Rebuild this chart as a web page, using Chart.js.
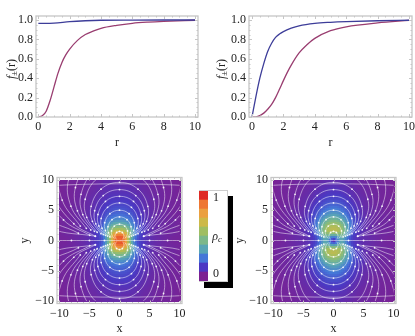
<!DOCTYPE html>
<html>
<head>
<meta charset="utf-8">
<script src="https://cdn.jsdelivr.net/npm/chart.js@4"></script>
<style>
html, body { margin: 0; padding: 0; background: #fff; }
#page { position: relative; width: 415px; height: 336px; overflow: hidden; font-family: "Liberation Serif", serif; color: #222; }
canvas { position: absolute; }
.lbl { position: absolute; white-space: nowrap; }
#barBox { position: absolute; left: 199px; top: 190px; width: 27px; height: 90px; background: #fff; border: 1px solid #ccc; box-shadow: 5px 6px 0 0 #000; }
sub { font-size: 8.5px; vertical-align: -2px; line-height: 0; }
</style>
</head>
<body>
<div id="page"><div id="barBox"></div></div>
<script>
// line plots, values
const rLeftBlue = [0, 1, 2, 3, 4, 6, 8, 10];
const fLeftBlue = [0.965, 0.968, 0.983, 0.992, 0.997, 0.999, 1, 1];
const rLeftRed = [0, 0.25, 0.5, 0.75, 1, 1.25, 1.5, 1.75, 2, 2.5, 3, 3.5, 4, 5, 6, 7, 8, 10];
const fLeftRed = [0, 0.012, 0.06, 0.17, 0.31, 0.45, 0.56, 0.64, 0.7, 0.79, 0.85, 0.885, 0.914, 0.945, 0.966, 0.978, 0.986, 0.997];
const rRightBlue = [0, 0.25, 0.5, 0.75, 1, 1.25, 1.5, 1.75, 2, 2.5, 3, 4, 5, 6, 8, 10];
const fRightBlue = [0, 0.21, 0.4, 0.55, 0.675, 0.76, 0.82, 0.855, 0.88, 0.915, 0.94, 0.965, 0.976, 0.983, 0.992, 0.997];
const rRightRed = [0, 0.25, 0.5, 0.75, 1, 1.25, 1.5, 1.75, 2, 2.25, 2.5, 3, 3.5, 4, 5, 6, 8, 10];
const fRightRed = [0, 0.002, 0.015, 0.04, 0.08, 0.13, 0.2, 0.285, 0.375, 0.46, 0.535, 0.66, 0.745, 0.81, 0.89, 0.93, 0.97, 0.995];
const curveXTicks = [0, 2, 4, 6, 8, 10];
const curveYTicks = [0, 0.2, 0.4, 0.6, 0.8, 1];
const heatTicks = [-10, -5, 0, 5, 10];

// density in percent, quadrant x>=0 y>=0, rows follow gridCoords in y
const gridCoords = [0, 0.5, 1, 1.5, 2, 2.5, 3, 3.5, 4, 5, 6, 7, 8, 9, 10];
const densityLeft = [
  [88, 92, 80, 54, 36, 22, 15, 12, 10, 7, 5, 4, 3, 2, 2],
  [94, 94, 82, 58, 38, 24, 16, 12, 10, 7, 5, 4, 3, 2, 2],
  [86, 84, 76, 58, 40, 26, 18, 13, 10, 7, 5, 4, 3, 3, 2],
  [68, 68, 62, 52, 38, 26, 18, 14, 11, 7, 5, 4, 3, 3, 2],
  [54, 53, 50, 43, 34, 25, 18, 14, 11, 7, 5, 4, 3, 3, 2],
  [42, 42, 40, 35, 29, 22, 17, 13, 11, 7, 5, 4, 3, 3, 2],
  [33, 33, 32, 28, 25, 20, 15, 12, 10, 7, 5, 4, 3, 3, 2],
  [27, 27, 26, 23, 21, 17, 14, 11, 9, 7, 5, 4, 3, 3, 2],
  [22, 22, 21, 20, 18, 15, 12, 10, 9, 6, 5, 4, 3, 2, 2],
  [17, 17, 16, 15, 14, 12, 10, 9, 8, 6, 4, 4, 3, 2, 2],
  [13, 13, 13, 12, 11, 10, 9, 8, 7, 5, 4, 3, 3, 2, 2],
  [10, 10, 10, 10, 9, 8, 8, 7, 6, 5, 4, 3, 2, 2, 2],
  [8, 8, 8, 8, 7, 7, 6, 6, 5, 4, 3, 3, 2, 2, 1],
  [7, 6, 6, 6, 6, 6, 5, 5, 4, 4, 3, 2, 2, 2, 1],
  [5, 5, 5, 5, 5, 5, 4, 4, 4, 3, 3, 2, 2, 1, 1]
];
const densityRight = [
  [4, 18, 32, 34, 26, 18, 13, 10, 8, 6, 5, 4, 3, 2, 2],
  [20, 24, 34, 36, 28, 19, 13, 10, 8, 6, 5, 4, 3, 2, 2],
  [42, 44, 46, 44, 34, 24, 16, 12, 9, 6, 5, 4, 3, 3, 2],
  [60, 60, 58, 50, 40, 28, 19, 13, 10, 7, 5, 4, 3, 3, 2],
  [63, 62, 58, 50, 40, 30, 21, 15, 11, 7, 5, 4, 3, 3, 2],
  [58, 57, 53, 46, 37, 29, 21, 15, 12, 7, 5, 4, 3, 3, 2],
  [50, 49, 46, 40, 33, 26, 20, 15, 12, 8, 5, 4, 3, 3, 2],
  [42, 41, 38, 34, 29, 23, 18, 14, 11, 8, 5, 4, 3, 3, 2],
  [35, 34, 32, 29, 25, 20, 16, 13, 10, 7, 5, 4, 3, 3, 2],
  [25, 25, 23, 21, 19, 16, 13, 11, 9, 6, 5, 4, 3, 2, 2],
  [18, 18, 17, 16, 14, 12, 11, 9, 8, 5, 4, 3, 3, 2, 2],
  [13, 13, 13, 12, 11, 10, 8, 7, 6, 5, 4, 3, 2, 2, 2],
  [10, 10, 10, 9, 8, 7, 7, 6, 5, 4, 3, 3, 2, 2, 1],
  [8, 8, 7, 7, 7, 6, 5, 5, 4, 4, 3, 2, 2, 2, 1],
  [6, 6, 6, 6, 5, 5, 5, 4, 4, 3, 3, 2, 2, 1, 1]
];

// stream lines, one quarter each, apex down towards the origin: x0, y0, x1, y1 ...
const streamArcs = [
  [0, 1.5, 0.48, 1.32, 0.74, 0.88, 0.7, 0.49, 0.48, 0.18],
  [0, 2.7, 0.87, 2.38, 1.33, 1.58, 1.27, 0.89, 0.87, 0.32],
  [0, 3.9, 1.25, 3.44, 1.92, 2.29, 1.83, 1.28, 1.25, 0.46],
  [0, 5, 1.6, 4.42, 2.46, 2.94, 2.35, 1.65, 1.6, 0.59],
  [0, 6.2, 1.99, 5.47, 3.05, 3.64, 2.91, 2.04, 1.99, 0.73],
  [0, 7.3, 2.34, 6.45, 3.59, 4.29, 3.43, 2.4, 2.34, 0.85],
  [0, 8.4, 2.7, 7.42, 4.13, 4.93, 3.95, 2.76, 2.7, 0.98],
  [0, 9.6, 3.08, 8.48, 4.72, 5.64, 4.51, 3.16, 3.08, 1.12],
  [0, 11.6, 3.72, 10.24, 5.71, 6.81, 5.45, 3.82, 3.72, 1.36],
  [0, 13, 4.17, 11.48, 6.4, 7.63, 6.11, 4.28, 4.17, 1.52],
  [0, 14.9, 4.78, 13.16, 7.33, 8.75, 7, 4.9, 4.78, 1.74],
  [0, 17.2, 5.52, 15.19, 8.46, 10.1, 8.08, 5.66, 5.52, 2.01],
  [6.52, 17.9, 9.99, 11.9, 9.54, 6.68, 6.52, 2.38],
  [11.66, 13.9, 11.14, 7.8, 7.61, 2.77, 4.05, 0.71],
  [14.27, 17, 13.63, 9.54, 9.31, 3.39, 4.96, 0.87],
  [19.7, 23.5, 12.84, 4.68, 6.84, 1.2],
  [21.8, 7.96, 11.6, 2.04, 4, 0.7]
];
// the straight line along the x axis
const axisStreamX = [-11, -8, -5, -2.5, 0, 2.5, 5, 8, 11];
const axisStreamY = [0, 0, 0, 0, 0, 0, 0, 0, 0];

const colorbarBands = ['#7c2192', '#4b38c3', '#4577d8', '#59a5b5', '#7cb88a', '#a0be62', '#cdb948', '#eba040', '#ee7733', '#df2b25'];
const colorbarSteps = [0.1, 0.1, 0.1, 0.1, 0.1, 0.1, 0.1, 0.1, 0.1, 0.1];

const blue = '#3d3d99';
const red = '#993d70';
const tickFont = { family: 'Liberation Serif', size: 12 };
const titleFont = { family: 'Liberation Serif', size: 12 };
const page = document.getElementById('page');

function addCanvas(left, top, w, h) {
  const c = document.createElement('canvas');
  c.width = w;
  c.height = h;
  c.style.left = left + 'px';
  c.style.top = top + 'px';
  c.style.width = w + 'px';
  c.style.height = h + 'px';
  page.appendChild(c);
  return c;
}

function addLabel(html, cx, cy, size, rotate) {
  const d = document.createElement('div');
  d.className = 'lbl';
  d.innerHTML = html;
  d.style.left = cx + 'px';
  d.style.top = cy + 'px';
  d.style.fontSize = size + 'px';
  d.style.transform = 'translate(-50%,-50%)' + (rotate ? ' rotate(-90deg)' : '');
  page.appendChild(d);
}

function range(from, to, step) {
  const out = [];
  for (let i = 0; from + i * step <= to + 1e-9; i++) out.push(from + i * step);
  return out;
}

function niceMinus(v) {
  return v < 0 ? '\u2212' + (-v) : String(v);
}

// gray Mathematica style frame with inside ticks
const framePlugin = {
  id: 'frame',
  afterDatasetsDraw(chart, args, opts) {
    const { ctx, chartArea: a, scales } = chart;
    ctx.save();
    ctx.strokeStyle = '#c6c6c6';
    ctx.lineWidth = 1;
    const mark = (vals, len) => {
      vals.forEach(v => {
        const px = Math.round(scales.x.getPixelForValue(v)) + 0.5;
        ctx.beginPath();
        ctx.moveTo(px, a.bottom); ctx.lineTo(px, a.bottom - len);
        ctx.moveTo(px, a.top); ctx.lineTo(px, a.top + len);
        ctx.stroke();
      });
    };
    const markY = (vals, len) => {
      vals.forEach(v => {
        const py = Math.round(scales.y.getPixelForValue(v)) + 0.5;
        ctx.beginPath();
        ctx.moveTo(a.left, py); ctx.lineTo(a.left + len, py);
        ctx.moveTo(a.right, py); ctx.lineTo(a.right - len, py);
        ctx.stroke();
      });
    };
    mark(opts.xMinor, 1.5);
    mark(opts.xMajor, 3);
    markY(opts.yMinor, 1.5);
    markY(opts.yMajor, 3);
    ctx.lineWidth = 1.3;
    ctx.strokeRect(a.left, a.top, a.right - a.left, a.bottom - a.top);
    ctx.restore();
  }
};

function levelColor(v) {
  const rgb = colorbarBands.map(h => [1, 3, 5].map(i => parseInt(h.substr(i, 2), 16)));
  const t = Math.max(0, Math.min(rgb.length - 1.001, v * (rgb.length - 1)));
  const i = Math.floor(t);
  const f = t - i;
  const c = rgb[i].map((p, k) => Math.round(p + (rgb[i + 1][k] - p) * f));
  return 'rgb(' + c.join(',') + ')';
}

// shade the density table between its nodes, 2 px squares placed with the chart scales
function sampleGrid(grid, ax, ay) {
  const n = gridCoords.length;
  let i = 0, j = 0;
  while (i < n - 2 && gridCoords[i + 1] < ax) i++;
  while (j < n - 2 && gridCoords[j + 1] < ay) j++;
  const fx = (ax - gridCoords[i]) / (gridCoords[i + 1] - gridCoords[i]);
  const fy = (ay - gridCoords[j]) / (gridCoords[j + 1] - gridCoords[j]);
  const low = grid[j][i] + (grid[j][i + 1] - grid[j][i]) * fx;
  const high = grid[j + 1][i] + (grid[j + 1][i + 1] - grid[j + 1][i]) * fx;
  return (low + (high - low) * fy) / 100;
}

const heatPlugin = {
  id: 'heat',
  beforeDatasetsDraw(chart, args, opts) {
    const { ctx, scales } = chart;
    const left = Math.round(scales.x.getPixelForValue(-10));
    const right = Math.round(scales.x.getPixelForValue(10));
    const top = Math.round(scales.y.getPixelForValue(10));
    const bottom = Math.round(scales.y.getPixelForValue(-10));
    ctx.save();
    for (let py = top; py < bottom; py += 2) {
      for (let px = left; px < right; px += 2) {
        const ax = Math.min(10, Math.abs(scales.x.getValueForPixel(px + 1)));
        const ay = Math.min(10, Math.abs(scales.y.getValueForPixel(py + 1)));
        ctx.fillStyle = levelColor(sampleGrid(opts.grid, ax, ay));
        ctx.fillRect(px, py, 2, 2);
      }
    }
    ctx.restore();
  }
};

function axis(min, max, ticks, size, extra) {
  const horizontal = extra.horizontal;
  return {
    type: 'linear',
    min: min,
    max: max,
    grid: { display: false, drawTicks: false, tickLength: 0 },
    border: { display: false },
    title: extra.title,
    afterBuildTicks: s => { s.ticks = ticks.map(v => ({ value: v })); },
    afterFit: s => {
      if (horizontal) s.height = size; else s.width = size;
      s.paddingLeft = s.paddingRight = s.paddingTop = s.paddingBottom = 0;
    },
    ticks: {
      autoSkip: false,
      maxRotation: 0,
      padding: extra.pad,
      color: '#222',
      font: tickFont,
      callback: extra.format
    }
  };
}

function zip(xs, ys) {
  return xs.map((x, i) => ({ x: x, y: ys[i] }));
}

function curvePlot(left, w, marginLeft, padRight, xMin, xMax, series) {
  const c = addCanvas(left, 0, w, 150);
  new Chart(c, {
    type: 'scatter',
    data: {
      datasets: series.map(s => ({
        data: zip(s.x, s.y),
        showLine: true,
        borderColor: s.color,
        borderWidth: 1.3,
        pointRadius: 0,
        cubicInterpolationMode: 'monotone'
      }))
    },
    options: {
      responsive: false,
      animation: false,
      layout: { padding: { top: 16, right: padRight, left: 0, bottom: 0 } },
      plugins: {
        legend: { display: false },
        tooltip: { enabled: false },
        frame: { xMajor: curveXTicks, xMinor: range(0, 10, 0.5), yMajor: curveYTicks, yMinor: range(0, 1, 0.05) }
      },
      scales: {
        x: axis(xMin, xMax, curveXTicks, 33, {
          horizontal: true, pad: 3, format: v => String(v),
          title: { display: true, text: 'r', color: '#222', font: titleFont, padding: { top: 0, bottom: 0 } }
        }),
        y: axis(0, 1.041, curveYTicks, marginLeft, {
          pad: 3, format: v => v.toFixed(1),
          title: { display: false }
        })
      }
    },
    plugins: [framePlugin]
  });
}

function streamStyle(data) {
  return {
    data: data,
    showLine: true,
    tension: 0.4,
    borderColor: 'rgba(255,255,255,0.62)',
    borderWidth: 0.8,
    clip: -2.4,
    pointBackgroundColor: 'rgba(255,255,255,0.9)',
    pointBorderWidth: 0,
    pointRadius: ctx => (Math.abs(ctx.raw.x) < 1.5 && Math.abs(ctx.raw.y) < 1 ? 0 : 0.9)
  };
}

function streamDatasets() {
  const sets = [streamStyle(zip(axisStreamX, axisStreamY))];
  streamArcs.forEach(flat => {
    const pts = [];
    for (let i = 0; i < flat.length; i += 2) pts.push({ x: flat[i], y: flat[i + 1] });
    [1, -1].forEach(sy => {
      const right = pts.map(p => ({ x: p.x, y: sy * p.y }));
      const left = right.map(p => ({ x: -p.x, y: p.y })).reverse();
      sets.push(streamStyle(left.concat(pts[0].x === 0 ? right.slice(1) : right)));
    });
  });
  return sets;
}

function heatPlot(left, w, marginLeft, padRight, titlePad, grid) {
  const c = addCanvas(left, 165, w, 171);
  new Chart(c, {
    type: 'scatter',
    data: { datasets: streamDatasets() },
    options: {
      responsive: false,
      animation: false,
      layout: { padding: { top: 12.5, right: padRight, left: 0, bottom: 0 } },
      plugins: {
        legend: { display: false },
        tooltip: { enabled: false },
        frame: { xMajor: heatTicks, xMinor: range(-10, 10, 1), yMajor: heatTicks, yMinor: range(-10, 10, 1) },
        heat: { grid: grid }
      },
      scales: {
        x: axis(-10.4, 10.4, heatTicks, 32.5, {
          horizontal: true, pad: 3, format: niceMinus,
          title: { display: true, text: 'x', color: '#222', font: titleFont, padding: { top: 0, bottom: 0 } }
        }),
        y: axis(-10.4, 10.4, heatTicks, marginLeft, {
          pad: 3, format: niceMinus,
          title: { display: true, text: 'y', color: '#222', font: titleFont, padding: { top: titlePad, bottom: 0 } }
        })
      }
    },
    plugins: [heatPlugin, framePlugin]
  });
}

curvePlot(0, 205, 36, 7, -0.15, 10.19, [
  { x: rLeftBlue, y: fLeftBlue, color: blue },
  { x: rLeftRed, y: fLeftRed, color: red }
]);
curvePlot(205, 210, 44, 3, -0.19, 10.19, [
  { x: rRightBlue, y: fRightBlue, color: blue },
  { x: rRightRed, y: fRightRed, color: red }
]);
heatPlot(0, 200, 57, 18, 18, densityLeft);
heatPlot(233, 182, 38, 19, 0, densityRight);

// colorbar: one stacked bar of the ten bands
new Chart(addCanvas(199, 191, 9, 90), {
  type: 'bar',
  data: {
    labels: ['rho'],
    datasets: colorbarSteps.map((v, i) => ({
      data: [v],
      backgroundColor: colorbarBands[i],
      barPercentage: 1,
      categoryPercentage: 1
    }))
  },
  options: {
    responsive: false,
    animation: false,
    plugins: { legend: { display: false }, tooltip: { enabled: false } },
    scales: {
      x: { stacked: true, display: false },
      y: { stacked: true, display: false, min: 0, max: 1 }
    }
  }
});

addLabel('<i>f</i><sub>\u00b1</sub>(r)', 11, 69, 12, true);
addLabel('<i>f</i><sub>\u00b1</sub>(r)', 221, 69, 12, true);
addLabel('1', 216, 197, 12);
addLabel('<i>\u03c1</i><sub><i>c</i></sub>', 217, 236, 12);
addLabel('0', 216, 273, 12);
</script>
</body>
</html>
